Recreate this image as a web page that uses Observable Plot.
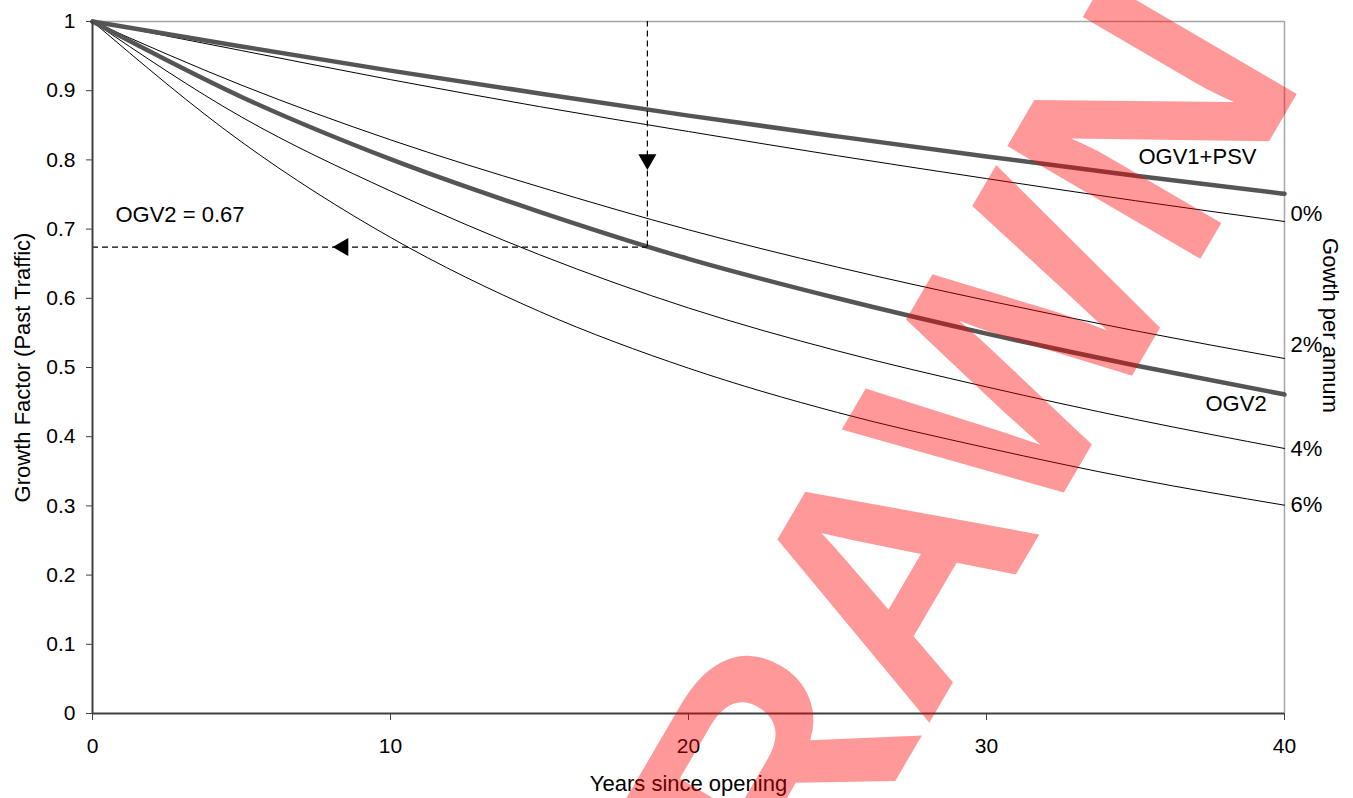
<!DOCTYPE html>
<html><head><meta charset="utf-8">
<script src="https://cdn.jsdelivr.net/npm/d3@7"></script>
<script src="https://cdn.jsdelivr.net/npm/@observablehq/plot@0.6"></script>
<style>
body{margin:0;background:#fff;}
#wrap{position:relative;width:1353px;height:798px;overflow:hidden;font-family:"Liberation Sans",Arial,sans-serif;}
#wm{position:absolute;left:0;top:0;pointer-events:none;}
</style></head><body><div id="wrap"></div>
<script>
// ---- data ----
const years    = [0, 5, 10, 15, 20, 25, 30, 35, 40];
const ogv1psv  = [1, 0.964, 0.929, 0.896, 0.864, 0.834, 0.805, 0.777, 0.751];
const growth0  = [1, 0.958, 0.916, 0.877, 0.841, 0.806, 0.773, 0.741, 0.711];
const growth2  = [1, 0.908, 0.829, 0.761, 0.699, 0.645, 0.597, 0.553, 0.513];
const ogv2     = [1, 0.891, 0.801, 0.725, 0.657, 0.600, 0.549, 0.503, 0.461];
const growth4  = [1, 0.862, 0.755, 0.663, 0.586, 0.524, 0.472, 0.425, 0.383];
const growth6  = [1, 0.826, 0.688, 0.581, 0.499, 0.435, 0.384, 0.339, 0.301];

const xTicks = [0, 10, 20, 30, 40];
const yTicks = [0, 0.1, 0.2, 0.3, 0.4, 0.5, 0.6, 0.7, 0.8, 0.9, 1];

// growth-rate labels at right edge
const rateLabels = ["0%", "2%", "4%", "6%"];
const rateLabelValues = [0.722, 0.532, 0.383, 0.301];

// curve name labels
const curveLabels = ["OGV1+PSV", "OGV2"];
const curveLabelYears = [39.06, 39.4];
const curveLabelValues = [0.804, 0.448];

// read-off annotation
const readYear = 18.62;
const readValue = 0.674;
const readText = "OGV2 = 0.67";
const readTextPos = {year: 0.77, value: 0.72};
const arrowDownValue = 0.8006;
const arrowLeftYear = 8.41;

// ---- build ----
const series = [
  {name: "OGV1+PSV", values: ogv1psv, thick: true},
  {name: "0%", values: growth0, thick: false},
  {name: "2%", values: growth2, thick: false},
  {name: "OGV2", values: ogv2, thick: true},
  {name: "4%", values: growth4, thick: false},
  {name: "6%", values: growth6, thick: false}
];
const rows = series.flatMap(s => years.map((t, i) => ({series: s.name, year: t, value: s.values[i], thick: s.thick})));
const thin = rows.filter(d => !d.thick);
const thick = rows.filter(d => d.thick);

const rateData = rateLabels.map((t, i) => ({text: t, year: 40, value: rateLabelValues[i]}));
const curveData = curveLabels.map((t, i) => ({text: t, year: curveLabelYears[i], value: curveLabelValues[i]}));

const font = "Liberation Sans, Arial, sans-serif";

const chart = Plot.plot({
  width: 1353, height: 798,
  marginLeft: 92, marginRight: 69, marginTop: 21, marginBottom: 85,
  style: {fontFamily: font, fontSize: "21px", color: "#000", background: "#fff", overflow: "visible"},
  x: {domain: [0, 40], label: null},
  y: {domain: [0, 1], label: null},
  marks: [
    Plot.ruleY([1], {stroke: "#a6a6a6", strokeWidth: 1.5}),
    Plot.ruleX([40], {stroke: "#a6a6a6", strokeWidth: 1.5}),
    Plot.line(thin, {x: "year", y: "value", z: "series", stroke: "#000", strokeWidth: 1, curve: "monotone-x"}),
    Plot.line(thick, {x: "year", y: "value", z: "series", stroke: "#555", strokeWidth: 4.5, curve: "monotone-x"}),
    Plot.ruleX([readYear], {y1: readValue, y2: 1, stroke: "#000", strokeWidth: 1.2, strokeDasharray: "6,4"}),
    Plot.ruleY([readValue], {x1: 0, x2: readYear, stroke: "#000", strokeWidth: 1.2, strokeDasharray: "6,4"}),
    Plot.dot([{year: readYear, value: arrowDownValue}], {x: "year", y: "value", symbol: "triangle", r: 6.7, fill: "#000", stroke: "none", rotate: 180}),
    Plot.dot([{year: arrowLeftYear, value: readValue}], {x: "year", y: "value", symbol: "triangle", r: 6.7, fill: "#000", stroke: "none", rotate: -90}),
    Plot.axisX(xTicks, {tickSize: 7, tickPadding: 18, stroke: "#404040", fontSize: 21, label: null}),
    Plot.axisY(yTicks, {tickSize: 6, tickPadding: 11, stroke: "#404040", fontSize: 21, label: null, tickFormat: d => String(+d.toFixed(1))}),
    Plot.ruleX([0], {stroke: "#404040", strokeWidth: 2}),
    Plot.ruleY([0], {stroke: "#404040", strokeWidth: 2}),
    Plot.text(rateData, {x: "year", y: "value", text: "text", textAnchor: "start", dx: 6, fontSize: 22}),
    Plot.text(curveData, {x: "year", y: "value", text: "text", textAnchor: "end", fontSize: 22}),
    Plot.text([readText], {x: readTextPos.year, y: readTextPos.value, text: d => d, textAnchor: "start", fontSize: 22}),
    Plot.text(["Growth Factor (Past Traffic)"], {frameAnchor: "left", textAnchor: "middle", lineAnchor: "middle", rotate: -90, dx: -70, text: d => d, fontSize: 22}),
    Plot.text(["Years since opening"], {frameAnchor: "bottom", textAnchor: "middle", lineAnchor: "middle", dy: 70, text: d => d, fontSize: 22}),
    Plot.text(["Gowth per annum"], {frameAnchor: "right", textAnchor: "middle", lineAnchor: "middle", rotate: 90, dx: 46, dy: -42, text: d => d, fontSize: 22})
  ]
});
const wrap = document.getElementById("wrap");
wrap.appendChild(chart);

// watermark overlay
const ns = "http://www.w3.org/2000/svg";
const wm = document.createElementNS(ns, "svg");
wm.setAttribute("id", "wm");
wm.setAttribute("width", 1353);
wm.setAttribute("height", 798);
const t = document.createElementNS(ns, "text");
t.setAttribute("transform", "translate(-6,9) rotate(-4.7,915,463) translate(1345,100) rotate(-55)");
t.setAttribute("text-anchor", "end");
t.setAttribute("font-family", font);
t.setAttribute("font-weight", "bold");
t.setAttribute("font-size", 325);
t.setAttribute("fill", "rgb(255,0,0)");
t.setAttribute("fill-opacity", 0.4);
t.textContent = "WITHDRAWN";
wm.appendChild(t);
wrap.appendChild(wm);
</script>
</body></html>
